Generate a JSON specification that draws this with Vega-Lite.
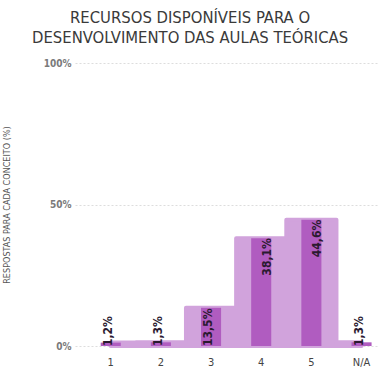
{
  "$schema": "https://vega.github.io/schema/vega-lite/v6.json",
  "width": 381,
  "height": 367,
  "autosize": {"type": "fit", "contains": "padding"},
  "padding": {"left": 2, "right": 3, "top": 9, "bottom": 0},
  "background": "white",
  "title": {
    "text": ["RECURSOS DISPONÍVEIS PARA O", "DESENVOLVIMENTO DAS AULAS TEÓRICAS"],
    "font": "DejaVu Sans Condensed, Liberation Sans Narrow, sans-serif",
    "fontSize": 16.5,
    "fontWeight": "normal",
    "color": "#3a3a3a",
    "lineHeight": 20,
    "anchor": "middle",
    "frame": "bounds",
    "offset": 12
  },
  "data": {
    "values": [
      {"conceito": "1", "pct": 1.2, "label": "1,2%"},
      {"conceito": "2", "pct": 1.3, "label": "1,3%"},
      {"conceito": "3", "pct": 13.5, "label": "13,5%"},
      {"conceito": "4", "pct": 38.1, "label": "38,1%"},
      {"conceito": "5", "pct": 44.6, "label": "44,6%"},
      {"conceito": "N/A", "pct": 1.3, "label": "1,3%"}
    ]
  },
  "encoding": {
    "x": {
      "field": "conceito",
      "type": "ordinal",
      "sort": null,
      "scale": {"paddingInner": 0.6, "paddingOuter": 0.32, "align": 0.8},
      "axis": {
        "title": null,
        "labelAngle": 0,
        "labelFont": "DejaVu Sans Condensed, Liberation Sans Narrow, sans-serif",
        "labelFontSize": 11,
        "labelColor": "#444",
        "labelPadding": 10,
        "ticks": false,
        "domain": false,
        "grid": false
      }
    }
  },
  "layer": [
    {
      "mark": {"type": "area", "interpolate": "step", "color": "#d1a3dc", "stroke": "#d1a3dc", "strokeWidth": 4, "strokeJoin": "round"},
      "encoding": {
        "x": {"field": "conceito", "type": "ordinal", "sort": null, "bandPosition": 0.5},
        "y": {
          "field": "pct",
          "type": "quantitative",
          "scale": {"domain": [0, 100]},
          "axis": {
            "title": "RESPOSTAS PARA CADA CONCEITO (%)",
            "titleFont": "DejaVu Sans Condensed, Liberation Sans Narrow, sans-serif",
            "titleFontSize": 9,
            "titleFontWeight": "normal",
            "titleColor": "#555",
            "titlePadding": 32,
            "values": [0, 50, 100],
            "labelExpr": "datum.value + '%'",
            "labelFont": "DejaVu Sans Condensed, Liberation Sans Narrow, sans-serif",
            "labelFontSize": 10,
            "labelFontWeight": "bold",
            "labelColor": "#7a7a7a",
            "labelPadding": 4,
            "ticks": false,
            "domain": false,
            "grid": true,
            "gridColor": "#dddddd",
            "gridDash": [2, 2],
            "gridWidth": 1
          }
        }
      }
    },
    {
      "mark": {"type": "bar", "color": "#b05cc0"},
      "encoding": {"y": {"field": "pct", "type": "quantitative"}}
    },
    {
      "transform": [{"filter": "datum.pct >= 30"}],
      "mark": {"type": "text", "angle": 270, "align": "right", "baseline": "middle", "dy": 6, "font": "DejaVu Sans Condensed", "fontSize": 12, "fontWeight": "bold", "color": "#2a1a30"},
      "encoding": {
        "y": {"field": "pct", "type": "quantitative"},
        "text": {"field": "label"}
      }
    },
    {
      "transform": [{"filter": "datum.pct < 30"}],
      "mark": {"type": "text", "angle": 270, "align": "left", "baseline": "middle", "dy": -3, "font": "DejaVu Sans Condensed", "fontSize": 12, "fontWeight": "bold", "color": "#2a1a30"},
      "encoding": {
        "y": {"datum": 0, "type": "quantitative"},
        "text": {"field": "label"}
      }
    }
  ],
  "config": {"view": {"stroke": null}}
}
